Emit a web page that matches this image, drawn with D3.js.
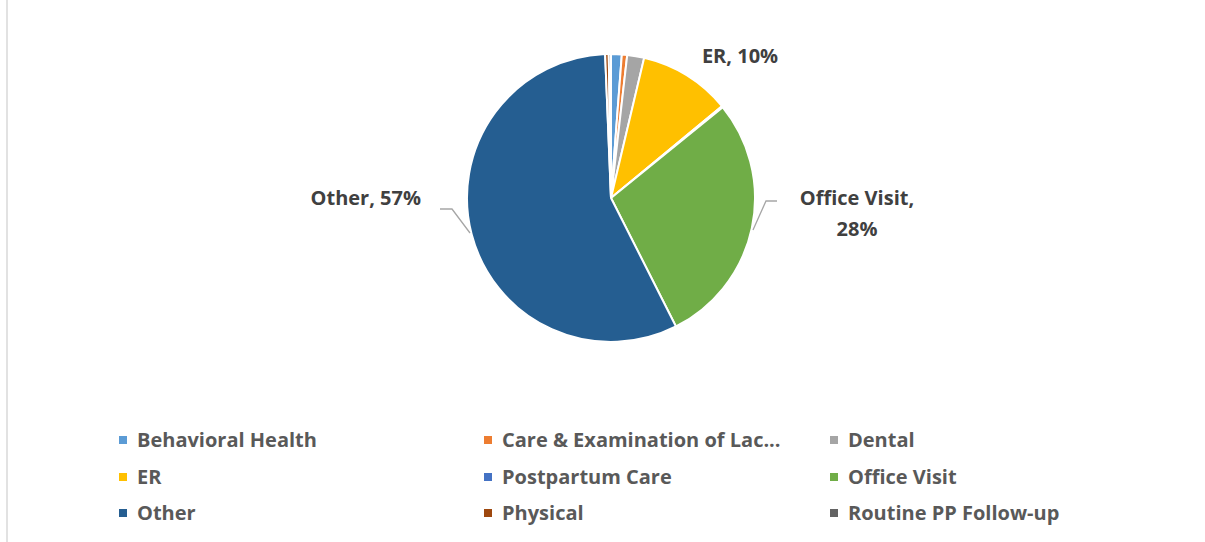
<!DOCTYPE html>
<html>
<head>
<meta charset="utf-8">
<script src="https://cdn.jsdelivr.net/npm/d3@7"></script>
<style>
  body { margin: 0; background: #fff; }
  svg { display: block; font-family: "Open Sans", Lato, sans-serif; }
</style>
</head>
<body>
<div id="chart"></div>
<script>
// Data
const categories = ['Behavioral Health', 'Care & Examination of Lac...', 'Dental', 'ER',
    'Postpartum Care', 'Office Visit', 'Other', 'Physical', 'Routine PP Follow-up'];
const shares = [1.2, 0.6, 1.9, 10.3, 0.15, 28.4, 56.8, 0.4, 0.25];
const colors = ['#5B9BD5', '#ED7D31', '#A5A5A5', '#FFC000', '#4472C4', '#70AD47', '#255E91', '#9E480E', '#636363'];

const width = 1205, height = 542;
const cx = 611, cy = 198, radius = 144;

const svg = d3.select('#chart').append('svg')
    .attr('width', width)
    .attr('height', height);

// chart border on the left
svg.append('line')
    .attr('x1', 7).attr('x2', 7)
    .attr('y1', 0).attr('y2', height)
    .style('stroke', '#d9d9d9')
    .style('stroke-width', 1.5);

const data = categories.map((c, i) => ({name: c, value: shares[i], color: colors[i]}));

const pie = d3.pie().sort(null).value(d => d.value);
const arcs = pie(data);
const arc = d3.arc().innerRadius(0).outerRadius(radius);

const g = svg.append('g').attr('transform', `translate(${cx},${cy})`);

g.selectAll('path')
    .data(arcs)
    .join('path')
    .attr('d', arc)
    .style('fill', d => d.data.color)
    .style('stroke', '#fff')
    .style('stroke-width', 2);

const pct = d => Math.round(d.data.value) + '%';
const byName = n => arcs.find(a => a.data.name === n);
const labelColor = '#404040';

function label(x, y, anchor, lines) {
    const t = g.append('text')
        .attr('text-anchor', anchor)
        .style('font-size', '20px')
        .style('font-weight', 'bold')
        .style('fill', labelColor);
    lines.forEach((s, i) => t.append('tspan').attr('x', x).attr('y', y + i * 31).text(s));
}

function leader(points) {
    g.append('polyline')
        .attr('points', points.map(p => p.join(',')).join(' '))
        .style('fill', 'none')
        .style('stroke', '#a6a6a6')
        .style('stroke-width', 1.3);
}

// ER label (no leader)
label(129, -135, 'middle', ['ER, ' + pct(byName('ER'))]);

// Office Visit label with leader
leader([[142, 32], [155, 3], [166, 3]]);
label(246, 7, 'middle', ['Office Visit,', pct(byName('Office Visit'))]);

// Other label with leader
leader([[-141, 35], [-159, 11], [-171, 11]]);
label(-190, 7, 'end', ['Other, ' + pct(byName('Other'))]);

// Legend: 3 columns x 3 rows
const colX = d3.scaleOrdinal().domain([0, 1, 2]).range([119, 484, 830]);
const rowY = d3.scaleOrdinal().domain([0, 1, 2]).range([440, 477, 513]);

const items = svg.append('g').selectAll('g')
    .data(data)
    .join('g')
    .attr('transform', (d, i) => `translate(${colX(i % 3)},${rowY(Math.floor(i / 3))})`);

items.append('rect')
    .attr('x', 0).attr('y', -4)
    .attr('width', 8).attr('height', 8)
    .style('fill', d => d.color);

items.append('text')
    .attr('x', 18)
    .attr('y', 7)
    .style('font-size', '20px')
    .style('font-weight', 'bold')
    .style('fill', '#595959')
    .text(d => d.name);
</script>
</body>
</html>
